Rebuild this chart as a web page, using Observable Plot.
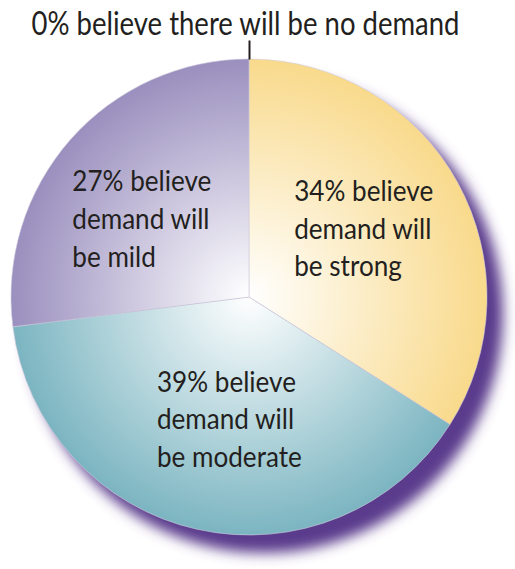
<!DOCTYPE html>
<html>
<head>
<meta charset="utf-8">
<script src="https://cdn.jsdelivr.net/npm/d3@7"></script>
<script src="https://cdn.jsdelivr.net/npm/@observablehq/plot@0.6"></script>
<style>
  html, body { margin: 0; padding: 0; background: #fff; }
  #chart svg { display: block; }
</style>
</head>
<body>
<div id="chart"></div>
<script>
// ---- data ----
const categories = ["strong", "moderate", "mild", "none"];
const shares = [34, 39, 27, 0];
const labels = [
  "34% believe\ndemand will\nbe strong",
  "39% believe\ndemand will\nbe moderate",
  "27% believe\ndemand will\nbe mild",
  "0% believe there will be no demand"
];
const colors = ["#f9da8c", "#7bb5c1", "#9a8fbe", "#231f20"];

// ---- layout ----
const W = 515, H = 569;
const CX = 249, CY = 297, R = 238;
const font = "Lato, 'Liberation Sans', sans-serif";
const ink = "#231f20";
const narrowLabels = 0.9, narrowTitle = 0.86; // horizontal condensing of the type
const nudge = {strong: [0, -8], moderate: [6, -8], mild: [-9, 6]}; // label fine placement

const table = categories.map((c, i) => ({category: c, share: shares[i], label: labels[i], color: colors[i]}));
const arcs = d3.pie().value(d => d.share).sort(null).startAngle(0).endAngle(2 * Math.PI)(table);

const polar = (a, r) => [CX + Math.sin(a) * r, CY - Math.cos(a) * r];
const sliceArcs = arcs.filter(a => a.data.share > 0);
const zeroArcs = arcs.filter(a => a.data.share === 0);

const sliceLabels = sliceArcs.map(a => {
  const mid = (a.startAngle + a.endAngle) / 2;
  const [x, y] = polar(mid, R * 0.55);
  const [nx, ny] = nudge[a.data.category] || [0, 0];
  return {x: x + nx, y: y + ny, label: a.data.label};
});
const ticks = zeroArcs.map(a => {
  const [x1, y1] = polar(a.startAngle, R);
  const [x2, y2] = polar(a.startAngle, R + 19);
  return {x1, y1, x2, y2, lx: x1 - 4, ly: y1 - 35, label: a.data.label};
});

function pieMark(index, scales) {
  const sx = scales.x, sy = scales.y;
  const cx = sx(CX), cy = sy(CY), r = sx(CX + R) - sx(CX);
  const g = d3.create("svg:g");
  const defs = g.append("defs");
  const blur = defs.append("filter").attr("id", "shadowBlur")
    .attr("x", "-20%").attr("y", "-20%").attr("width", "140%").attr("height", "140%");
  blur.append("feGaussianBlur").attr("stdDeviation", 6.5);
  sliceArcs.forEach((a, i) => {
    const grad = defs.append("radialGradient").attr("id", "grad" + i)
      .attr("gradientUnits", "userSpaceOnUse")
      .attr("cx", 0).attr("cy", 0).attr("r", r);
    grad.append("stop").attr("offset", "0%").attr("stop-color", "#ffffff");
    grad.append("stop").attr("offset", "100%").attr("stop-color", a.data.color);
  });
  // drop shadow
  g.append("circle").attr("cx", cx + 15).attr("cy", cy + 17).attr("r", r + 1)
    .attr("fill", "#5a3a8c").attr("filter", "url(#shadowBlur)");
  const arcGen = d3.arc().innerRadius(0).outerRadius(r);
  g.append("g").attr("transform", `translate(${cx},${cy})`)
    .selectAll("path").data(sliceArcs).join("path")
    .attr("d", arcGen)
    .attr("fill", (d, i) => `url(#grad${i})`)
    .attr("stroke", "#cfcbdc").attr("stroke-width", 0.6);
  return g.node();
}

const plot = Plot.plot({
  width: W,
  height: H,
  margin: 0,
  x: {domain: [0, W], range: [0, W], axis: null},
  y: {domain: [0, H], range: [0, H], axis: null},
  marks: [
    pieMark,
    Plot.link(ticks, {x1: "x1", y1: "y1", x2: "x2", y2: "y2", stroke: ink, strokeWidth: 2}),
    Plot.text(ticks, {x: "lx", y: "ly", text: "label", fontFamily: font, fontSize: 32, fill: ink,
      textAnchor: "middle", className: "narrowtitle"}),
    Plot.text(sliceLabels, {x: "x", y: "y", text: "label", fontFamily: font, fontSize: 29, fill: ink,
      textAnchor: "start", dx: -70, lineHeight: 1.3, lineAnchor: "middle", className: "narrowlabels"})
  ]
});
// condense the type (the reference uses a condensed face)
const condense = (sel, k) => d3.select(plot).selectAll(sel).each(function () {
  const t = this.getAttribute("transform") || "";
  this.setAttribute("transform", `${t} scale(${k},1)`);
});
condense(".narrowlabels text", narrowLabels);
condense(".narrowtitle text", narrowTitle);
document.getElementById("chart").appendChild(plot);
</script>
</body>
</html>
